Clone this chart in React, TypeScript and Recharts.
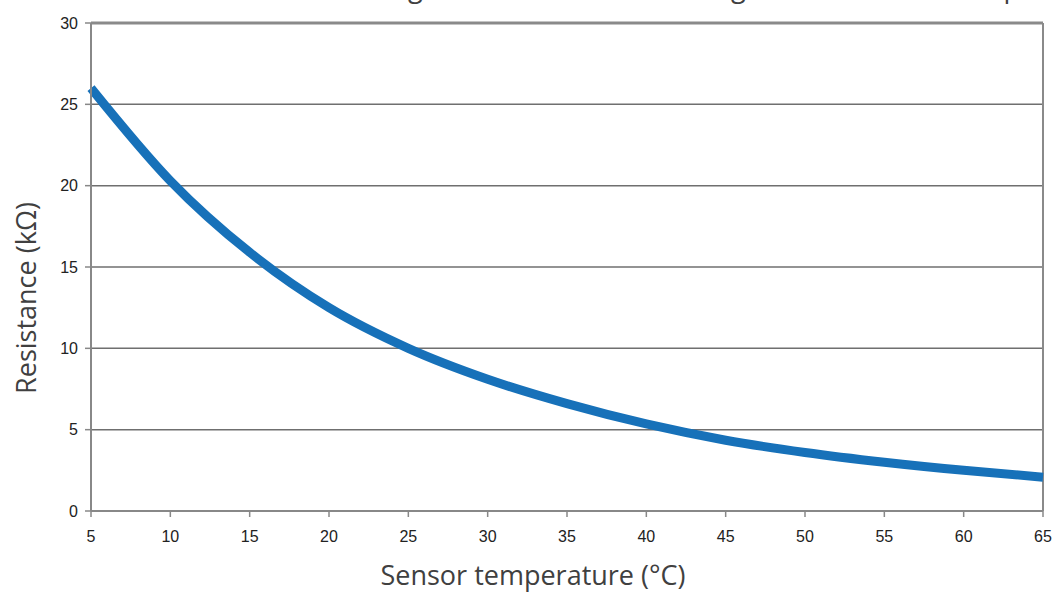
import React from 'react';
import { LineChart, Line, XAxis, YAxis, CartesianGrid, ReferenceLine, Customized } from 'recharts';

const temperatures = [5, 10, 15, 20, 25, 30, 35, 40, 45, 50, 55, 60, 65];
const resistances = [26.0, 20.3, 15.9, 12.5, 10.0, 8.1, 6.6, 5.35, 4.35, 3.6, 3.0, 2.5, 2.08];
const xTicks = [5, 10, 15, 20, 25, 30, 35, 40, 45, 50, 55, 60, 65];
const yTicks = [0, 5, 10, 15, 20, 25, 30];
const chartTitle = 'Resistance change of the NTC sensor along with the sensor temperature';
const xTitle = 'Sensor temperature (°C)';
const yTitle = 'Resistance (kΩ)';

const data = temperatures.map((t, i) => ({ t, r: resistances[i] }));

const tickStyle = { fontFamily: '"Liberation Sans", Arial, sans-serif', fontSize: 16, fill: '#222' };
const titleFont = '"Open Sans", sans-serif';

export default function App() {
  return (
    <div style={{ position: 'absolute', left: 0, top: 0, width: 1055, height: 592, background: '#fff' }}>
      <LineChart width={1055} height={592} data={data} margin={{ top: 23, right: 12, bottom: 0, left: 0 }}>
        <CartesianGrid vertical={false} stroke="#6f6f6f" strokeWidth={1.5} />
        <XAxis
          dataKey="t"
          type="number"
          domain={[5, 65]}
          ticks={xTicks}
          interval={0}
          height={81}
          tick={tickStyle}
          tickSize={6}
          tickMargin={14}
          stroke="#888"
          strokeWidth={2}
          tickLine={{ stroke: '#888', strokeWidth: 1.5 }}
        />
        <YAxis
          type="number"
          domain={[0, 30]}
          ticks={yTicks}
          interval={0}
          width={91}
          tick={tickStyle}
          tickSize={6}
          tickMargin={7}
          stroke="#888"
          strokeWidth={2}
          tickLine={{ stroke: '#888', strokeWidth: 1.5 }}
        />
        <ReferenceLine y={30} stroke="#8a8a8a" strokeWidth={3} />
        <ReferenceLine x={65} stroke="#8a8a8a" strokeWidth={2} />
        <Line
          type="monotone"
          dataKey="r"
          stroke="#1771b9"
          strokeWidth={9}
          dot={false}
          activeDot={false}
          isAnimationActive={false}
        />
        <Customized
          component={() => (
            <g>
              <text x={660} y={-3} textAnchor="middle" fontFamily={titleFont} fontSize={27} fill="#404040">
                {chartTitle}
              </text>
              <text
                x={25}
                y={298}
                textAnchor="middle"
                dominantBaseline="central"
                transform="rotate(-90 25 298)"
                fontFamily={titleFont}
                fontSize={27}
                fill="#404040"
              >
                {yTitle}
              </text>
              <text x={533} y={585} textAnchor="middle" fontFamily={titleFont} fontSize={27} fill="#404040">
                {xTitle}
              </text>
            </g>
          )}
        />
      </LineChart>
    </div>
  );
}
